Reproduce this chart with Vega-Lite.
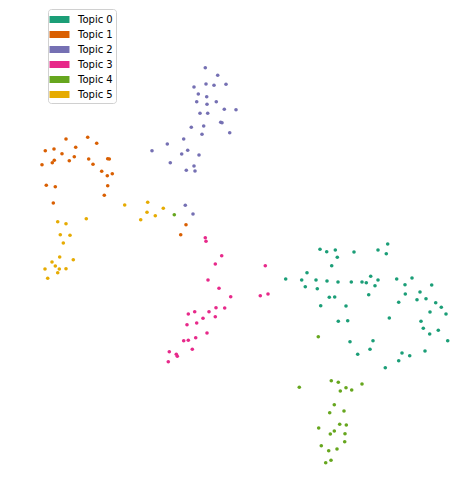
{
  "$schema": "https://vega.github.io/schema/vega-lite/v6.json",
  "width": 475,
  "height": 490,
  "padding": 0,
  "autosize": {"type": "fit", "contains": "padding"},
  "config": {"view": {"stroke": null}, "axis": {"disable": true}},
  "datasets": {
    "pts": [
      {"x": 387.7, "y": 244, "topic": "Topic 0"},
      {"x": 320, "y": 249.3, "topic": "Topic 0"},
      {"x": 326.7, "y": 251.7, "topic": "Topic 0"},
      {"x": 335.3, "y": 250, "topic": "Topic 0"},
      {"x": 354, "y": 252, "topic": "Topic 0"},
      {"x": 378, "y": 250, "topic": "Topic 0"},
      {"x": 386.3, "y": 253.7, "topic": "Topic 0"},
      {"x": 337.3, "y": 257.3, "topic": "Topic 0"},
      {"x": 331.7, "y": 265.7, "topic": "Topic 0"},
      {"x": 307, "y": 272.7, "topic": "Topic 0"},
      {"x": 285.7, "y": 279, "topic": "Topic 0"},
      {"x": 301.7, "y": 280, "topic": "Topic 0"},
      {"x": 316, "y": 280, "topic": "Topic 0"},
      {"x": 327, "y": 281, "topic": "Topic 0"},
      {"x": 338, "y": 282, "topic": "Topic 0"},
      {"x": 351.3, "y": 282, "topic": "Topic 0"},
      {"x": 362, "y": 282, "topic": "Topic 0"},
      {"x": 366.3, "y": 282.7, "topic": "Topic 0"},
      {"x": 370.7, "y": 276.3, "topic": "Topic 0"},
      {"x": 378, "y": 280, "topic": "Topic 0"},
      {"x": 396.7, "y": 279, "topic": "Topic 0"},
      {"x": 412, "y": 278, "topic": "Topic 0"},
      {"x": 305.3, "y": 286.7, "topic": "Topic 0"},
      {"x": 317.3, "y": 288.7, "topic": "Topic 0"},
      {"x": 375, "y": 285.7, "topic": "Topic 0"},
      {"x": 405, "y": 284.7, "topic": "Topic 0"},
      {"x": 431.7, "y": 285, "topic": "Topic 0"},
      {"x": 368.7, "y": 294.7, "topic": "Topic 0"},
      {"x": 329.3, "y": 297.3, "topic": "Topic 0"},
      {"x": 334.7, "y": 297, "topic": "Topic 0"},
      {"x": 405.3, "y": 294, "topic": "Topic 0"},
      {"x": 420, "y": 292, "topic": "Topic 0"},
      {"x": 417, "y": 299.7, "topic": "Topic 0"},
      {"x": 426, "y": 298.7, "topic": "Topic 0"},
      {"x": 435.7, "y": 302.7, "topic": "Topic 0"},
      {"x": 398.7, "y": 302.3, "topic": "Topic 0"},
      {"x": 320.7, "y": 305.7, "topic": "Topic 0"},
      {"x": 346, "y": 306, "topic": "Topic 0"},
      {"x": 441.3, "y": 307.3, "topic": "Topic 0"},
      {"x": 430, "y": 312, "topic": "Topic 0"},
      {"x": 446, "y": 314, "topic": "Topic 0"},
      {"x": 389.3, "y": 318, "topic": "Topic 0"},
      {"x": 338.3, "y": 321.3, "topic": "Topic 0"},
      {"x": 347.7, "y": 320.7, "topic": "Topic 0"},
      {"x": 421, "y": 321.3, "topic": "Topic 0"},
      {"x": 423.3, "y": 328.3, "topic": "Topic 0"},
      {"x": 429.7, "y": 334, "topic": "Topic 0"},
      {"x": 438.3, "y": 330.3, "topic": "Topic 0"},
      {"x": 447.7, "y": 340.7, "topic": "Topic 0"},
      {"x": 350, "y": 341.7, "topic": "Topic 0"},
      {"x": 373, "y": 340.7, "topic": "Topic 0"},
      {"x": 370, "y": 349.3, "topic": "Topic 0"},
      {"x": 425, "y": 351, "topic": "Topic 0"},
      {"x": 402, "y": 353, "topic": "Topic 0"},
      {"x": 409.7, "y": 355.7, "topic": "Topic 0"},
      {"x": 357.7, "y": 354.3, "topic": "Topic 0"},
      {"x": 398.7, "y": 360.7, "topic": "Topic 0"},
      {"x": 385.3, "y": 367.7, "topic": "Topic 0"},

      {"x": 66, "y": 139, "topic": "Topic 1"},
      {"x": 87.7, "y": 137.3, "topic": "Topic 1"},
      {"x": 96.7, "y": 143.3, "topic": "Topic 1"},
      {"x": 45.3, "y": 150.7, "topic": "Topic 1"},
      {"x": 54, "y": 149, "topic": "Topic 1"},
      {"x": 75.7, "y": 147.3, "topic": "Topic 1"},
      {"x": 62, "y": 153.7, "topic": "Topic 1"},
      {"x": 74.3, "y": 156.7, "topic": "Topic 1"},
      {"x": 54.3, "y": 160.3, "topic": "Topic 1"},
      {"x": 52.3, "y": 162.7, "topic": "Topic 1"},
      {"x": 69.3, "y": 160.7, "topic": "Topic 1"},
      {"x": 88.7, "y": 159, "topic": "Topic 1"},
      {"x": 107.7, "y": 158.7, "topic": "Topic 1"},
      {"x": 109.3, "y": 159, "topic": "Topic 1"},
      {"x": 42, "y": 164.7, "topic": "Topic 1"},
      {"x": 93, "y": 164.3, "topic": "Topic 1"},
      {"x": 101.7, "y": 171.3, "topic": "Topic 1"},
      {"x": 107.3, "y": 175.7, "topic": "Topic 1"},
      {"x": 112.3, "y": 173.7, "topic": "Topic 1"},
      {"x": 46.3, "y": 185.3, "topic": "Topic 1"},
      {"x": 55.3, "y": 186.7, "topic": "Topic 1"},
      {"x": 107.7, "y": 185.7, "topic": "Topic 1"},
      {"x": 104.3, "y": 195.3, "topic": "Topic 1"},
      {"x": 53.3, "y": 203, "topic": "Topic 1"},
      {"x": 186, "y": 224.7, "topic": "Topic 1"},
      {"x": 180.7, "y": 234.7, "topic": "Topic 1"},

      {"x": 205.3, "y": 67.7, "topic": "Topic 2"},
      {"x": 217.7, "y": 75.3, "topic": "Topic 2"},
      {"x": 194, "y": 87, "topic": "Topic 2"},
      {"x": 206, "y": 84, "topic": "Topic 2"},
      {"x": 214, "y": 85.3, "topic": "Topic 2"},
      {"x": 226, "y": 84.3, "topic": "Topic 2"},
      {"x": 198.3, "y": 94, "topic": "Topic 2"},
      {"x": 206.7, "y": 96.7, "topic": "Topic 2"},
      {"x": 196.7, "y": 101.7, "topic": "Topic 2"},
      {"x": 207, "y": 104.3, "topic": "Topic 2"},
      {"x": 216.3, "y": 101.7, "topic": "Topic 2"},
      {"x": 224.3, "y": 109.3, "topic": "Topic 2"},
      {"x": 236, "y": 109.7, "topic": "Topic 2"},
      {"x": 200, "y": 113.3, "topic": "Topic 2"},
      {"x": 207.7, "y": 113.3, "topic": "Topic 2"},
      {"x": 220.7, "y": 122.3, "topic": "Topic 2"},
      {"x": 222, "y": 122.7, "topic": "Topic 2"},
      {"x": 203.7, "y": 126, "topic": "Topic 2"},
      {"x": 191.3, "y": 127.3, "topic": "Topic 2"},
      {"x": 229.7, "y": 132.7, "topic": "Topic 2"},
      {"x": 202, "y": 134.3, "topic": "Topic 2"},
      {"x": 183.7, "y": 139, "topic": "Topic 2"},
      {"x": 167.3, "y": 144, "topic": "Topic 2"},
      {"x": 152, "y": 150.7, "topic": "Topic 2"},
      {"x": 187.7, "y": 150.3, "topic": "Topic 2"},
      {"x": 181.7, "y": 154, "topic": "Topic 2"},
      {"x": 199, "y": 155, "topic": "Topic 2"},
      {"x": 170.3, "y": 162.7, "topic": "Topic 2"},
      {"x": 194, "y": 166, "topic": "Topic 2"},
      {"x": 186.3, "y": 170.3, "topic": "Topic 2"},
      {"x": 195, "y": 171, "topic": "Topic 2"},
      {"x": 185.3, "y": 205.3, "topic": "Topic 2"},
      {"x": 193, "y": 214, "topic": "Topic 2"},

      {"x": 205.3, "y": 237.7, "topic": "Topic 3"},
      {"x": 206, "y": 241.3, "topic": "Topic 3"},
      {"x": 221.7, "y": 255.7, "topic": "Topic 3"},
      {"x": 215.3, "y": 264, "topic": "Topic 3"},
      {"x": 265.3, "y": 265.7, "topic": "Topic 3"},
      {"x": 208, "y": 280, "topic": "Topic 3"},
      {"x": 219, "y": 288.3, "topic": "Topic 3"},
      {"x": 230.7, "y": 296.7, "topic": "Topic 3"},
      {"x": 260.3, "y": 295.7, "topic": "Topic 3"},
      {"x": 268, "y": 294, "topic": "Topic 3"},
      {"x": 216, "y": 307.7, "topic": "Topic 3"},
      {"x": 224.7, "y": 308, "topic": "Topic 3"},
      {"x": 194.7, "y": 311.7, "topic": "Topic 3"},
      {"x": 188.3, "y": 314, "topic": "Topic 3"},
      {"x": 209, "y": 311.7, "topic": "Topic 3"},
      {"x": 203, "y": 318.3, "topic": "Topic 3"},
      {"x": 215.3, "y": 316.7, "topic": "Topic 3"},
      {"x": 196.7, "y": 323, "topic": "Topic 3"},
      {"x": 187, "y": 324.7, "topic": "Topic 3"},
      {"x": 207, "y": 333, "topic": "Topic 3"},
      {"x": 195.7, "y": 337.7, "topic": "Topic 3"},
      {"x": 183.7, "y": 340.7, "topic": "Topic 3"},
      {"x": 188.3, "y": 340.3, "topic": "Topic 3"},
      {"x": 192.3, "y": 349.3, "topic": "Topic 3"},
      {"x": 169.3, "y": 351.7, "topic": "Topic 3"},
      {"x": 176.3, "y": 354.3, "topic": "Topic 3"},
      {"x": 177.3, "y": 356.3, "topic": "Topic 3"},
      {"x": 168.3, "y": 361.7, "topic": "Topic 3"},

      {"x": 174.3, "y": 214.7, "topic": "Topic 4"},
      {"x": 318.3, "y": 336.7, "topic": "Topic 4"},
      {"x": 331.3, "y": 380.7, "topic": "Topic 4"},
      {"x": 338.3, "y": 382.3, "topic": "Topic 4"},
      {"x": 299.3, "y": 387.3, "topic": "Topic 4"},
      {"x": 362, "y": 384, "topic": "Topic 4"},
      {"x": 346, "y": 387.7, "topic": "Topic 4"},
      {"x": 340.3, "y": 391, "topic": "Topic 4"},
      {"x": 351.7, "y": 390, "topic": "Topic 4"},
      {"x": 334.3, "y": 404.7, "topic": "Topic 4"},
      {"x": 329.7, "y": 412.7, "topic": "Topic 4"},
      {"x": 344, "y": 411, "topic": "Topic 4"},
      {"x": 339.7, "y": 424.3, "topic": "Topic 4"},
      {"x": 346.3, "y": 425, "topic": "Topic 4"},
      {"x": 318.7, "y": 428, "topic": "Topic 4"},
      {"x": 334.3, "y": 431, "topic": "Topic 4"},
      {"x": 330.3, "y": 434, "topic": "Topic 4"},
      {"x": 345, "y": 433.7, "topic": "Topic 4"},
      {"x": 344.7, "y": 441.7, "topic": "Topic 4"},
      {"x": 321.3, "y": 445.7, "topic": "Topic 4"},
      {"x": 337, "y": 449, "topic": "Topic 4"},
      {"x": 328.7, "y": 450.7, "topic": "Topic 4"},
      {"x": 331, "y": 460.3, "topic": "Topic 4"},
      {"x": 325.7, "y": 462.7, "topic": "Topic 4"},

      {"x": 124.7, "y": 205, "topic": "Topic 5"},
      {"x": 86.3, "y": 218.7, "topic": "Topic 5"},
      {"x": 57.7, "y": 221.7, "topic": "Topic 5"},
      {"x": 66, "y": 223.7, "topic": "Topic 5"},
      {"x": 60.3, "y": 234.7, "topic": "Topic 5"},
      {"x": 70, "y": 235.3, "topic": "Topic 5"},
      {"x": 63.3, "y": 243, "topic": "Topic 5"},
      {"x": 59.7, "y": 257, "topic": "Topic 5"},
      {"x": 73.3, "y": 259.7, "topic": "Topic 5"},
      {"x": 52, "y": 262, "topic": "Topic 5"},
      {"x": 55.3, "y": 266, "topic": "Topic 5"},
      {"x": 45, "y": 269, "topic": "Topic 5"},
      {"x": 59.3, "y": 269, "topic": "Topic 5"},
      {"x": 66, "y": 268.7, "topic": "Topic 5"},
      {"x": 57.7, "y": 272.7, "topic": "Topic 5"},
      {"x": 47.7, "y": 278.3, "topic": "Topic 5"},
      {"x": 147.7, "y": 202.3, "topic": "Topic 5"},
      {"x": 147, "y": 212.3, "topic": "Topic 5"},
      {"x": 163.3, "y": 208.3, "topic": "Topic 5"},
      {"x": 155.3, "y": 215.7, "topic": "Topic 5"},
      {"x": 140.7, "y": 219.7, "topic": "Topic 5"}
    ]
  },
  "data": {"name": "pts"},
  "mark": {"type": "circle", "size": 13, "opacity": 1},
  "encoding": {
    "x": {"field": "x", "type": "quantitative", "scale": {"domain": [0, 475], "nice": false, "zero": false}},
    "y": {"field": "y", "type": "quantitative", "scale": {"domain": [0, 490], "nice": false, "zero": false, "reverse": true}},
    "color": {
      "field": "topic",
      "type": "nominal",
      "scale": {
        "domain": ["Topic 0", "Topic 1", "Topic 2", "Topic 3", "Topic 4", "Topic 5"],
        "range": ["#1b9e77", "#d95f02", "#7570b3", "#e7298a", "#66a61e", "#e6ab02"]
      },
      "legend": {
        "title": null,
        "orient": "none",
        "legendX": 48,
        "legendY": 9,
        "padding": 3,
        "symbolType": "M-1.33,-0.47H1.33V0.47H-1.33Z",
        "symbolSize": 225,
        "symbolOffset": 1,
        "symbolStrokeWidth": 0,
        "symbolOpacity": 1,
        "labelOffset": 11,
        "labelFont": "DejaVu Sans",
        "labelFontSize": 10,
        "labelColor": "#000000",
        "rowPadding": 2,
        "strokeColor": "#d0d0d0",
        "fillColor": "#ffffff",
        "cornerRadius": 3
      }
    }
  }
}
